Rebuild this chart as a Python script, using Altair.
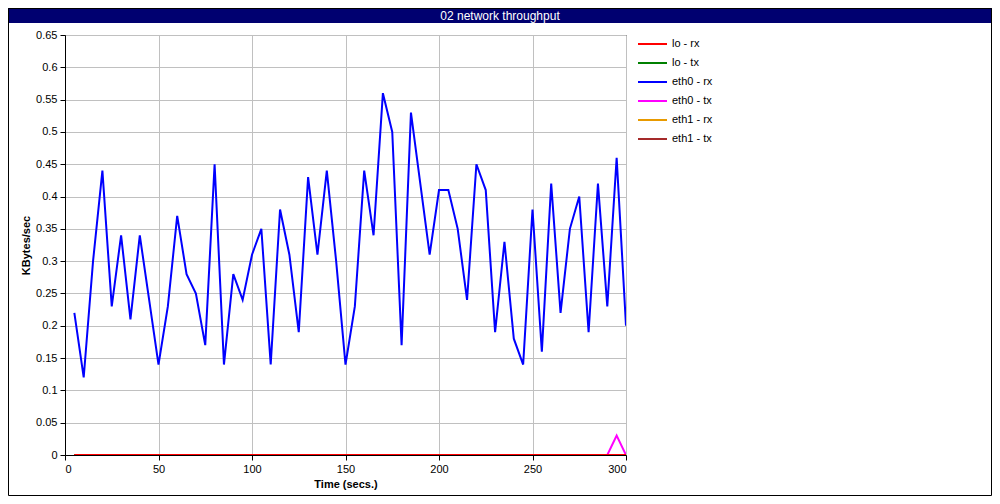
import altair as alt
import pandas as pd

# ---- data ----
times = list(range(5, 301, 5))
series_names = ["lo - rx", "lo - tx", "eth0 - rx", "eth0 - tx", "eth1 - rx", "eth1 - tx"]
series_colors = ["#ff0000", "#008000", "#0000ff", "#ff00ff", "#e89a00", "#a52a2a"]

lo_rx = [0.0] * 60
lo_tx = [0.0] * 60
eth0_rx = [0.22, 0.12, 0.30, 0.44, 0.23, 0.34, 0.21, 0.34, 0.24, 0.14,
           0.23, 0.37, 0.28, 0.25, 0.17, 0.45, 0.14, 0.28, 0.24, 0.31,
           0.35, 0.14, 0.38, 0.31, 0.19, 0.43, 0.31, 0.44, 0.30, 0.14,
           0.23, 0.44, 0.34, 0.56, 0.50, 0.17, 0.53, 0.42, 0.31, 0.41,
           0.41, 0.35, 0.24, 0.45, 0.41, 0.19, 0.33, 0.18, 0.14, 0.38,
           0.16, 0.42, 0.22, 0.35, 0.40, 0.19, 0.42, 0.23, 0.46, 0.20]
eth0_tx = [0.0] * 58 + [0.03, 0.0]
eth1_rx = [0.0] * 60
eth1_tx = [0.0] * 60

y_ticks = [0, 0.05, 0.1, 0.15, 0.2, 0.25, 0.3, 0.35, 0.4, 0.45, 0.5, 0.55, 0.6, 0.65]
x_ticks = [0, 50, 100, 150, 200, 250, 300]
title_text = "02 network throughput"

all_values = [lo_rx, lo_tx, eth0_rx, eth0_tx, eth1_rx, eth1_tx]
rows = []
for name, vals in zip(series_names, all_values):
    for t, v in zip(times, vals):
        rows.append({"time": t, "value": v, "series": name})
df = pd.DataFrame(rows)

# ---- layout ----
PW, PH = 561, 420
PAD_L, PAD_T = 57, 27
TOTAL_W, TOTAL_H = 984, 488
PAD_R = TOTAL_W - PAD_L - PW
PAD_B = TOTAL_H - PAD_T - PH
FONT = "Liberation Sans"

# legend geometry (relative to the plot area)
LEG_X0, LEG_X1, LEG_Y0, LEG_DY = 573, 602, 9, 19

color_scale = alt.Scale(domain=series_names, range=series_colors)

x_enc = alt.X("time:Q", scale=alt.Scale(domain=[0, 300], nice=False),
              axis=alt.Axis(values=x_ticks, title="Time (secs.)", grid=True))
y_enc = alt.Y("value:Q", scale=alt.Scale(domain=[0, 0.65], nice=False),
              axis=alt.Axis(values=y_ticks, title="KBytes/sec", format="~g", grid=True))

layers = []
# draw in reverse so that "lo - rx" ends up on top
for name in reversed(series_names):
    layers.append(
        alt.Chart(df).transform_filter(alt.datum.series == name)
        .mark_line(strokeWidth=2, clip=True)
        .encode(x=x_enc, y=y_enc,
                color=alt.Color("series:N", scale=color_scale, legend=None))
    )

# custom legend built from the series arrays
leg_df = pd.DataFrame({"series": series_names})
leg_layers = []
for i, name in enumerate(series_names):
    ypos = LEG_Y0 + LEG_DY * i
    base = alt.Chart(leg_df).transform_filter(alt.datum.series == name)
    leg_layers.append(
        base.mark_rule(strokeWidth=2).encode(
            x=alt.value(LEG_X0), x2=alt.value(LEG_X1), y=alt.value(ypos),
            color=alt.Color("series:N", scale=color_scale, legend=None))
    )
    leg_layers.append(
        base.mark_text(align="left", baseline="middle", font=FONT, fontSize=11, color="black").encode(
            x=alt.value(LEG_X1 + 5), y=alt.value(ypos), text="series:N")
    )

frame_df = pd.DataFrame({"t": [title_text]})
title_bar = alt.Chart(frame_df).mark_rect(color="#000070").encode(
    x=alt.value(-PAD_L), x2=alt.value(TOTAL_W - PAD_L),
    y=alt.value(-PAD_T), y2=alt.value(-PAD_T + 15),
)
title_txt = alt.Chart(frame_df).mark_text(
    color="white", font=FONT, fontSize=12, baseline="middle", align="center"
).encode(
    x=alt.value(TOTAL_W / 2 - PAD_L), y=alt.value(-PAD_T + 7.5), text="t:N"
)
outer = alt.Chart(frame_df).mark_rect(fillOpacity=0, stroke="black", strokeWidth=1).encode(
    x=alt.value(-PAD_L + 0.5), x2=alt.value(TOTAL_W - PAD_L - 0.5),
    y=alt.value(-PAD_T + 0.5), y2=alt.value(TOTAL_H - PAD_T - 0.5),
)

chart = alt.layer(*layers, *leg_layers, title_bar, title_txt, outer).properties(
    width=PW, height=PH,
    padding={"left": PAD_L, "top": PAD_T, "right": PAD_R, "bottom": PAD_B},
    autosize=alt.AutoSizeParams(type="none"),
    background="white",
).configure_view(
    stroke="black", strokeWidth=1
).configure_axis(
    labelFont=FONT, labelFontSize=11, labelColor="black",
    titleFont=FONT, titleFontSize=11, titleFontWeight="bold", titleColor="black",
    domainColor="black", tickColor="black", tickSize=5,
    gridColor="#c0c0c0", gridWidth=1,
).configure_axisY(
    titlePadding=4, labelPadding=3,
).configure_axisX(
    titlePadding=4, labelPadding=3,
)

chart.save("out.html", embed_options={"renderer": "svg", "actions": False})
